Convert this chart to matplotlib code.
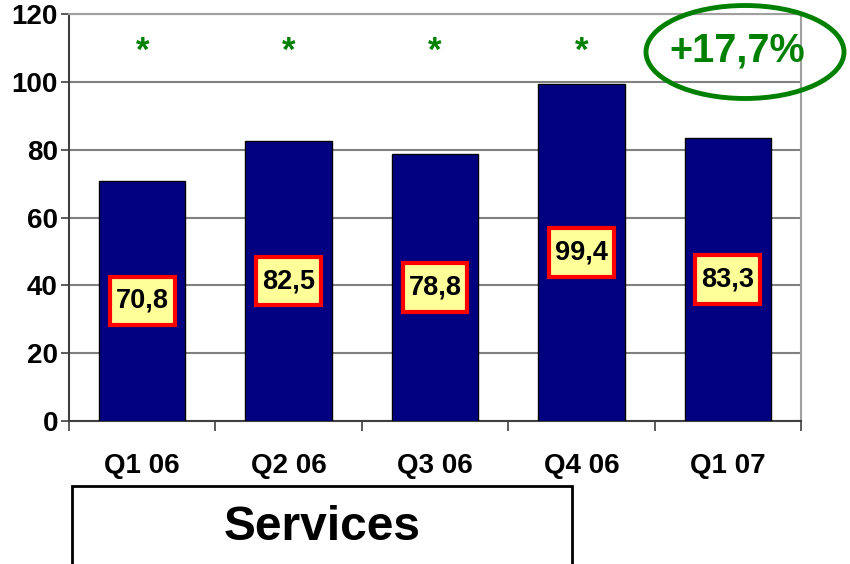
import matplotlib

matplotlib.use("Agg")
import matplotlib.pyplot as plt
from matplotlib.patches import Ellipse, Rectangle
from matplotlib.path import Path

plt.rcParams["font.family"] = ["Liberation Sans", "DejaVu Sans"]
plt.rcParams["font.weight"] = "bold"

quarters = ["Q1 06", "Q2 06", "Q3 06", "Q4 06", "Q1 07"]
revenue = [70.8, 82.5, 78.8, 99.4, 83.3]
value_labels = ["70,8", "82,5", "78,8", "99,4", "83,3"]
marked = [True, True, True, True, False]
growth_label = "+17,7%"
y_ticks = [0, 20, 40, 60, 80, 100, 120]

NAVY = "#000080"
GREEN = "#008000"


def label_box(x0, y0, width, height, mutation_size):
    # square box with more padding top/bottom than left/right
    px = 0.22 * mutation_size
    py = 0.42 * mutation_size
    x0, y0 = x0 - px, y0 - py
    x1, y1 = x0 + width + 2 * px, y0 + height + 2 * py
    return Path([(x0, y0), (x1, y0), (x1, y1), (x0, y1), (x0, y0)], closed=True)


fig = plt.figure(figsize=(8.5, 5.64), dpi=100)
ax = fig.add_axes([69 / 850, 1 - 421 / 564, 732 / 850, 407 / 564])

x = list(range(len(quarters)))
ax.bar(x, revenue, width=0.59, color=NAVY, edgecolor="black", linewidth=1, zorder=3)

for xi, v, lab in zip(x, revenue, value_labels):
    ax.text(xi, v / 2, lab, ha="center", va="center", fontsize=19.5, fontweight="bold",
            zorder=5,
            bbox=dict(boxstyle=label_box, facecolor="#ffff99",
                      edgecolor="#ff0000", linewidth=3))

for xi, m in zip(x, marked):
    if m:
        ax.text(xi, 109, "*", ha="center", va="center", fontsize=25,
                fontweight="bold", color=GREEN, zorder=5)

ax.set_xlim(-0.5, len(quarters) - 0.5)
ax.set_ylim(0, 120)
ax.set_yticks(y_ticks)
ax.set_yticklabels([str(t) for t in y_ticks], fontsize=20, fontweight="bold")
ax.set_xticks(x)
ax.set_xticklabels(quarters, fontsize=20, fontweight="bold")
ax.set_xticks([i - 0.5 for i in range(len(quarters) + 1)], minor=True)
ax.tick_params(axis="x", which="major", length=0, pad=23)
ax.tick_params(axis="x", which="minor", length=7, width=1.2, color="#404040", direction="out")
ax.tick_params(axis="y", length=6, width=1.2, color="#404040", pad=2)

ax.grid(axis="y", color="#808080", linewidth=1.5, zorder=0)
ax.set_axisbelow(True)
for side in ["left", "bottom"]:
    ax.spines[side].set_color("#404040")
    ax.spines[side].set_linewidth(1.5)
for side in ["top", "right"]:
    ax.spines[side].set_color("#a0a0a0")
    ax.spines[side].set_linewidth(1.5)

# growth callout
ell = Ellipse((745 / 850, 1 - 52 / 564), 198 / 850, 93 / 564, transform=fig.transFigure,
              fill=False, edgecolor=GREEN, linewidth=3.5, zorder=10)
fig.add_artist(ell)
fig.text(737 / 850, 1 - 51 / 564, growth_label, ha="center", va="center", fontsize=28.5,
         fontweight="bold", color=GREEN)

# segment label box
box = Rectangle((72 / 850, -0.05), 500 / 850, 0.05 + 1 - 486 / 564,
                transform=fig.transFigure, fill=False, edgecolor="black", linewidth=2)
fig.add_artist(box)
fig.text(322 / 850, 1 - 527 / 564, "Services", ha="center", va="center", fontsize=34.5,
         fontweight="bold")

fig.savefig("out.png", dpi=100)
